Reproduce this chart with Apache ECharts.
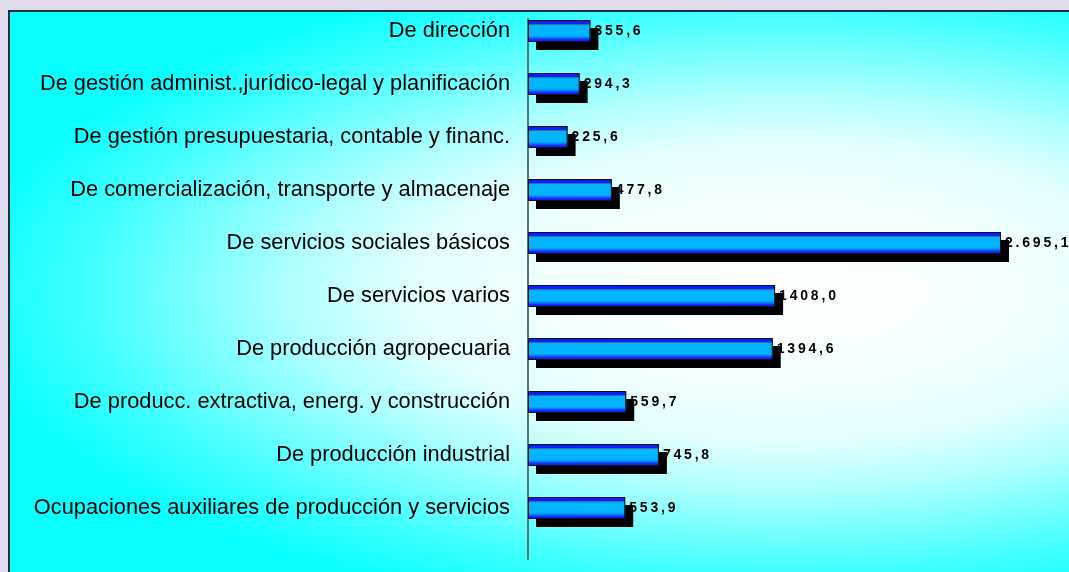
<!DOCTYPE html>
<html>
<head>
<meta charset="utf-8">
<script src="https://cdn.jsdelivr.net/npm/echarts@6/dist/echarts.min.js"></script>
<style>
  html, body { margin: 0; padding: 0; background: #e0dcee; overflow: hidden; }
  #frame {
    position: absolute; left: 8px; top: 10px; width: 1120px; height: 620px;
    border: 2px solid #14303a; box-sizing: border-box;
    background: radial-gradient(ellipse 820px 330px at 772px 280px,
      #ffffff 0%, #f4ffff 25%, #e4ffff 45%, #b0ffff 60%, #40ffff 85%, #08ffff 100%);
  }
  #chart { position: absolute; left: 0; top: 0; width: 1069px; height: 572px; }
</style>
</head>
<body>
<div id="frame"></div>
<div id="chart"></div>
<script>
// Ocupaciones por grupo: valores en miles, etiquetas tal como aparecen en el gráfico
const categories = [
  'De dirección',
  'De gestión administ.,jurídico-legal y planificación',
  'De gestión presupuestaria, contable y financ.',
  'De comercialización, transporte y almacenaje',
  'De servicios sociales básicos',
  'De servicios varios',
  'De producción agropecuaria',
  'De producc. extractiva, energ. y construcción',
  'De producción industrial',
  'Ocupaciones auxiliares de producción y servicios',
];
const values = [355.6, 294.3, 225.6, 477.8, 2695.1, 1408.0, 1394.6, 559.7, 745.8, 553.9];
const valueLabels = ['355,6', '294,3', '225,6', '477,8', '2.695,1', '1408,0', '1394,6', '559,7', '745,8', '553,9'];

const FONT = '"Liberation Sans", Arial, sans-serif';

const chart = echarts.init(document.getElementById('chart'));

chart.setOption({
  backgroundColor: 'transparent',
  animation: false,
  grid: [
    { left: 528, top: 4.5, height: 530, right: 14.5 },
    // solo para la línea vertical del eje, que en el original es más larga
    { left: 528, top: 19, height: 540, width: 100 },
  ],
  xAxis: [
    { type: 'value', min: 0, max: 3000, show: false },
    { type: 'value', gridIndex: 1, show: false },
  ],
  yAxis: [
    {
      type: 'category', data: categories, inverse: true,
      axisLine: { show: false }, axisTick: { show: false },
      axisLabel: { color: '#000', fontSize: 21.8, fontFamily: FONT, margin: 18 },
    },
    {
      type: 'value', gridIndex: 1,
      axisLine: { show: true, lineStyle: { color: '#4d7878', width: 2 } },
      axisTick: { show: false }, axisLabel: { show: false }, splitLine: { show: false },
    },
  ],
  series: [
    {
      // relleno degradado con sombra negra desplazada
      type: 'bar',
      data: values,
      barWidth: 22,
      itemStyle: {
        color: new echarts.graphic.LinearGradient(0, 0, 0, 1, [
          { offset: 0, color: '#1414ff' },
          { offset: 0.17, color: '#0028ff' },
          { offset: 0.19, color: '#604050' },
          { offset: 0.23, color: '#00b4ff' },
          { offset: 0.72, color: '#00b4ff' },
          { offset: 0.82, color: '#0a6cff' },
          { offset: 0.9, color: '#1a20ff' },
          { offset: 1, color: '#1a1aff' },
        ]),
        shadowColor: '#000',
        shadowBlur: 0,
        shadowOffsetX: 8,
        shadowOffsetY: 8,
      },
    },
    {
      // contorno negro encima, con la etiqueta de valor
      type: 'bar',
      data: values,
      barWidth: 22,
      barGap: '-100%',
      itemStyle: { color: 'transparent', borderColor: '#111', borderWidth: 1 },
      label: {
        show: true, position: 'right', distance: 4,
        formatter: p => valueLabels[p.dataIndex].split('').join('\u2009'),
        color: '#000', fontSize: 14, fontWeight: 'bold', fontFamily: FONT,
      },
    },
  ],
});
</script>
</body>
</html>
